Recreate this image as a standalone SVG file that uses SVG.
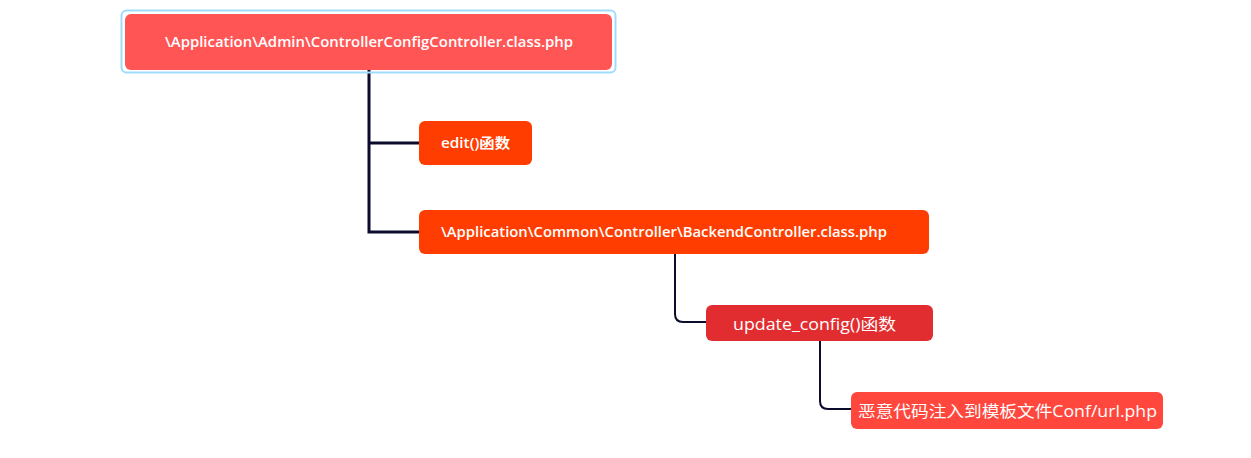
<svg xmlns="http://www.w3.org/2000/svg" width="1251" height="458" viewBox="0 0 1251 458">
<style>
.t{font-family:"Open Sans","Noto Sans CJK SC",sans-serif;fill:#fff}
.b{font-weight:600;font-size:14px}
.n{font-weight:400;font-size:16px}
.c{fill:none;stroke:#0b0b2e;stroke-linecap:butt}
</style>
<rect width="1251" height="458" fill="#fff"/>
<g id="connectors">
<path class="c" stroke-width="3" d="M369 70 V232 H419 M369 143 H419"/>
<path class="c" stroke-width="2" d="M675 254 V314 Q675 322 683 322 H706"/>
<path class="c" stroke-width="2" d="M820 341 V401 Q820 409 828 409 H851"/>
</g>
<g id="root">
<rect x="121.5" y="10.5" width="494" height="62" rx="5" fill="none" stroke="#9fdcfb" stroke-width="2"/>
<rect x="125" y="14" width="487" height="56" rx="6" fill="#ff5555"/>
<text class="t b" x="165" y="47" textLength="408" lengthAdjust="spacingAndGlyphs">\Application\Admin\ControllerConfigController.class.php</text>
</g>
<g id="edit">
<rect x="419" y="121" width="113" height="44" rx="6" fill="#ff3d00"/>
<text class="t b" x="441" y="148" textLength="69" lengthAdjust="spacingAndGlyphs">edit()函数</text>
</g>
<g id="backend">
<rect x="419" y="210" width="510" height="44" rx="6" fill="#ff3d00"/>
<text class="t b" x="441" y="237" textLength="446" lengthAdjust="spacingAndGlyphs">\Application\Common\Controller\BackendController.class.php</text>
</g>
<g id="update">
<rect x="706" y="305" width="227" height="36" rx="6" fill="#e22d30"/>
<text class="t n" x="733" y="330" textLength="163" lengthAdjust="spacingAndGlyphs">update_config()函数</text>
</g>
<g id="inject">
<rect x="851" y="392" width="312" height="37" rx="6" fill="#ff473d"/>
<text class="t n" x="858" y="417" font-size="17" textLength="299" lengthAdjust="spacingAndGlyphs">恶意代码注入到模板文件Conf/url.php</text>
</g>
</svg>
